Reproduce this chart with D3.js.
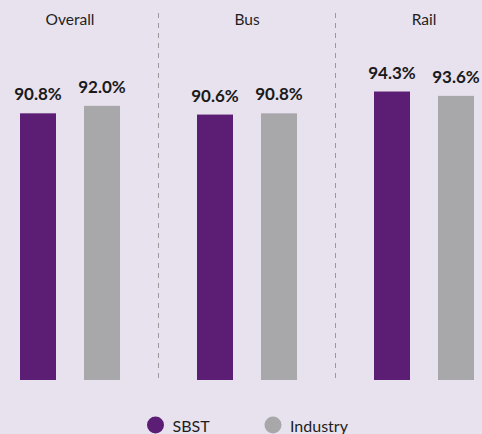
<!DOCTYPE html>
<html>
<head>
<meta charset="utf-8">
<script src="https://cdn.jsdelivr.net/npm/d3@7"></script>
<style>
  html, body { margin: 0; padding: 0; background: #e8e2ee; }
  svg { display: block; font-family: Lato, "Open Sans", sans-serif; }
</style>
</head>
<body>
<svg id="chart" width="482" height="434"></svg>
<script>
// Customer satisfaction: SBST vs industry, by mode
const categories = ["Overall", "Bus", "Rail"];
const seriesNames = ["SBST", "Industry"];
const sbstValues = [90.8, 90.6, 94.3];
const industryValues = [92.0, 90.8, 93.6];
const seriesColors = ["#5c1d74", "#a8a8ab"];

const width = 482, height = 434;
const baseY = 380;

const svg = d3.select("#chart");
svg.append("rect").attr("width", width).attr("height", height).attr("fill", "#e8e2ee");

// one panel per category
const x0 = d3.scaleBand().domain(categories).range([-18.5, 512.5]).padding(0);
const x1 = d3.scaleBand().domain(seriesNames).range([-50, 50]).paddingInner(0.4375).paddingOuter(0);
const y = d3.scaleLinear().domain([48, 100]).range([baseY, 56]);
const color = d3.scaleOrdinal().domain(seriesNames).range(seriesColors);

const rows = categories.map((c, i) => ({
  category: c,
  values: [
    { series: "SBST", value: sbstValues[i] },
    { series: "Industry", value: industryValues[i] }
  ]
}));

// dashed separators between panels
svg.selectAll("line.sep")
  .data(categories.slice(1))
  .join("line")
  .attr("class", "sep")
  .attr("x1", d => Math.round(x0(d)) - 0.5)
  .attr("x2", d => Math.round(x0(d)) - 0.5)
  .attr("y1", 13)
  .attr("y2", baseY)
  .attr("stroke", "#9a979d")
  .attr("stroke-width", 1)
  .attr("stroke-dasharray", "5,5");

const panel = svg.selectAll("g.panel")
  .data(rows)
  .join("g")
  .attr("class", "panel")
  .attr("transform", d => `translate(${x0(d.category) + x0.bandwidth() / 2},0)`);

panel.append("text")
  .attr("x", 0)
  .attr("y", 25)
  .attr("text-anchor", "middle")
  .attr("font-size", 15.5)
  .attr("fill", "#1e1e1e")
  .text(d => d.category);

const bar = panel.selectAll("g.bar")
  .data(d => d.values)
  .join("g")
  .attr("class", "bar");

bar.append("rect")
  .attr("x", d => x1(d.series))
  .attr("width", x1.bandwidth())
  .attr("y", d => y(d.value))
  .attr("height", d => baseY - y(d.value))
  .attr("fill", d => color(d.series));

bar.append("text")
  .attr("x", d => x1(d.series) + x1.bandwidth() / 2)
  .attr("y", d => y(d.value) - 13)
  .attr("text-anchor", "middle")
  .attr("font-size", 17)
  .attr("font-weight", "bold")
  .attr("fill", "#1a1a1a")
  .text(d => d.value.toFixed(1) + "%");

// legend
const legendX = [155.5, 273];
const legend = svg.selectAll("g.legend")
  .data(seriesNames)
  .join("g")
  .attr("class", "legend")
  .attr("transform", (d, i) => `translate(${legendX[i]},425)`);

legend.append("circle").attr("r", 8.5).attr("fill", d => color(d));
legend.append("text")
  .attr("x", 17)
  .attr("y", 7)
  .attr("font-size", 16)
  .attr("fill", "#1e1e1e")
  .text(d => d);
</script>
</body>
</html>
